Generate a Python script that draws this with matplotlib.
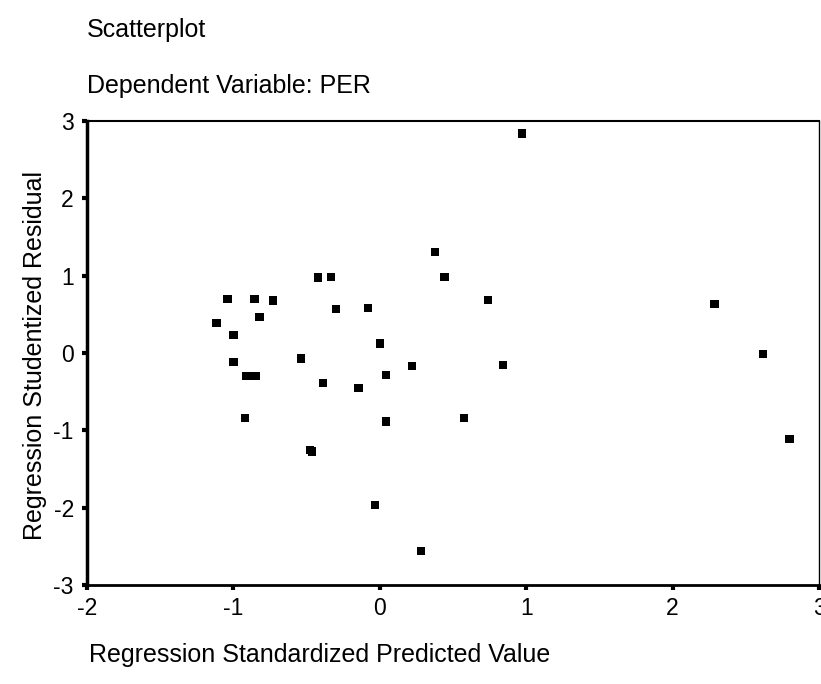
import matplotlib
matplotlib.use("Agg")
import matplotlib.pyplot as plt

plt.rcParams['font.family'] = ['Liberation Sans', 'DejaVu Sans']

# Regression Standardized Predicted Value
pred = [0.970, 0.378, 0.441, -0.424, -0.335, -1.040, -0.856, -0.729, 0.738, 2.286,
        -0.301, -0.082, -0.822, -1.115, -0.999, 0.002, 2.618, -0.538, -0.999, 0.219,
        0.842, 0.041, -0.915, -0.882, -0.849, -0.389, -0.145, 0.574, -0.922, 0.041,
        2.798, -0.475, -0.462, -0.032, 0.282]
# Regression Studentized Residual
resid = [2.837, 1.303, 0.983, 0.977, 0.983, 0.699, 0.699, 0.677, 0.682, 0.634,
         0.565, 0.582, 0.462, 0.384, 0.233, 0.125, -0.013, -0.069, -0.116, -0.164,
         -0.159, -0.281, -0.294, -0.294, -0.294, -0.384, -0.449, -0.837, -0.841, -0.884,
         -1.113, -1.255, -1.275, -1.966, -2.558]

xticks = [-2, -1, 0, 1, 2, 3]
yticks = [-3, -2, -1, 0, 1, 2, 3]

W, H = 821, 684
fig = plt.figure(figsize=(W / 100, H / 100), dpi=100)
ax = fig.add_axes([87 / W, 1 - 585 / H, (819 - 87) / W, (585 - 121) / H])

ax.scatter(pred, resid, marker='s', s=36, color='black', edgecolors='none', zorder=3)

ax.set_xlim(-2, 3)
ax.set_ylim(-3, 3)
ax.set_xticks(xticks)
ax.set_yticks(yticks)
ax.set_xticklabels([str(t) for t in xticks])
ax.set_yticklabels([str(t) for t in yticks])
ax.tick_params(axis='both', direction='out', length=3.5, width=3, labelsize=16.5, color='black')
ax.tick_params(axis='x', pad=5)
ax.tick_params(axis='y', pad=6)

ax.spines['left'].set_linewidth(2.5)
ax.spines['bottom'].set_linewidth(2)
ax.spines['top'].set_linewidth(1.5)
ax.spines['right'].set_linewidth(1)
for s in ax.spines.values():
    s.set_color('black')

fig.text(87 / W, 1 - 30 / H, 'Scatterplot', fontsize=18, ha='left', va='center')
fig.text(87 / W, 1 - 86 / H, 'Dependent Variable: PER', fontsize=18, ha='left', va='center')
fig.text(89 / W, 1 - 655 / H, 'Regression Standardized Predicted Value', fontsize=18,
         ha='left', va='center')
fig.text(35 / W, 1 - 355 / H, 'Regression Studentized Residual', fontsize=18,
         ha='center', va='center', rotation=90)

fig.savefig('out.png', dpi=100, facecolor='white')
